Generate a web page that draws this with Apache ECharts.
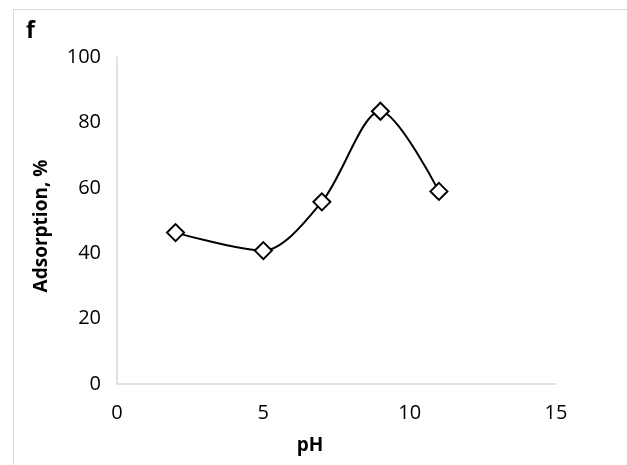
<!DOCTYPE html>
<html>
<head>
<meta charset="utf-8">
<style>
  html, body { margin: 0; padding: 0; background: #fff; }
  #chart { width: 627px; height: 465px; }
</style>
<script src="https://cdn.jsdelivr.net/npm/echarts@6/dist/echarts.min.js"></script>
</head>
<body>
<div id="chart"></div>
<script>
// Adsorption (%) measured at each pH
const phValues = [2, 5, 7, 9, 11];
const adsorption = [46.3, 40.8, 55.7, 83.4, 58.9];
const xTicks = { min: 0, max: 15, interval: 5 };
const yTicks = { min: 0, max: 100, interval: 20 };

const FONT = '"Open Sans", "Liberation Sans", sans-serif';
const chart = echarts.init(document.getElementById('chart'), null, { renderer: 'canvas' });

chart.setOption({
  backgroundColor: '#ffffff',
  animation: false,
  grid: { left: 117, right: 71, top: 57, bottom: 81 },
  graphic: [
    { type: 'rect', shape: { x: 13.5, y: 9.5, width: 640, height: 480 },
      style: { fill: 'none', stroke: '#d9d9d9', lineWidth: 1 } },
    { type: 'text', left: 26, top: 20,
      style: { text: 'f', font: 'bold 23px ' + FONT, fill: '#000' } },
    { type: 'text', x: 310, y: 446,
      style: { text: 'pH', font: 'bold 19px ' + FONT, fill: '#000', align: 'center', verticalAlign: 'middle' } },
    { type: 'text', x: 42, y: 226, rotation: Math.PI / 2,
      style: { text: 'Adsorption, %', font: 'bold 19px ' + FONT, fill: '#000', align: 'center', verticalAlign: 'middle' } }
  ],
  xAxis: {
    type: 'value', min: xTicks.min, max: xTicks.max, interval: xTicks.interval,
    axisLine: { show: true, onZero: false, lineStyle: { color: '#d9d9d9', width: 1.5 } },
    axisTick: { show: false },
    splitLine: { show: false },
    axisLabel: { color: '#000', fontFamily: FONT, fontSize: 20, margin: 19 }
  },
  yAxis: {
    type: 'value', min: yTicks.min, max: yTicks.max, interval: yTicks.interval,
    axisLine: { show: true, lineStyle: { color: '#d9d9d9', width: 1.5 } },
    axisTick: { show: false },
    splitLine: { show: false },
    axisLabel: { color: '#000', fontFamily: FONT, fontSize: 20, margin: 16 }
  },
  series: [{
    type: 'line',
    data: phValues.map((x, i) => [x, adsorption[i]]),
    smooth: 0.3,
    symbol: 'diamond',
    symbolSize: 17,
    showAllSymbol: true,
    lineStyle: { color: '#000', width: 2 },
    itemStyle: { color: '#fff', borderColor: '#000', borderWidth: 2 },
    z: 3
  }]
});
</script>
</body>
</html>
